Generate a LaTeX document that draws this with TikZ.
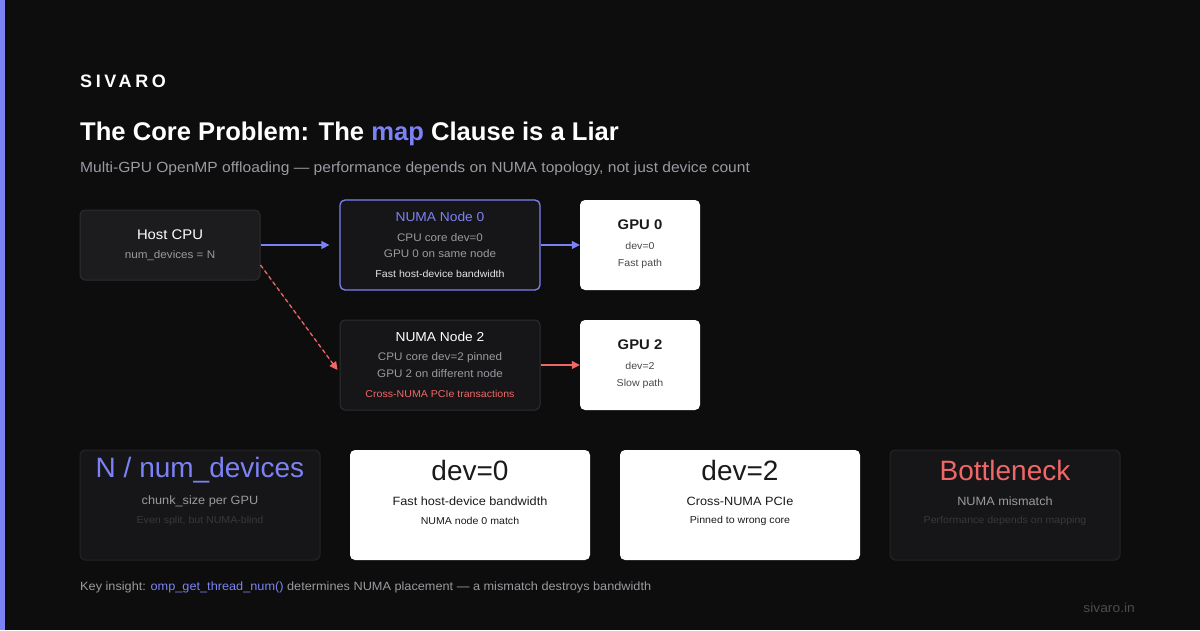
\documentclass[tikz,border=0pt]{standalone}
\usepackage{fontspec}
\setmainfont[FakeStretch=1.06]{Liberation Sans}
\newfontfamily\plainfont{Liberation Sans}
\newfontfamily\spacedfont[LetterSpace=20]{Liberation Sans}
\usetikzlibrary{arrows.meta,calc}
\definecolor{bgc}{HTML}{0D0D0D}
\definecolor{accent}{HTML}{7C82F5}
\definecolor{redc}{HTML}{F06767}
\definecolor{boxfill}{HTML}{1C1C1E}
\definecolor{boxfill2}{HTML}{161618}
\definecolor{boxline}{HTML}{2E2E31}
\definecolor{graytxt}{HTML}{9A9AA0}
\definecolor{dimtxt}{HTML}{38383C}
\definecolor{darktxt}{HTML}{1A1A1A}
\definecolor{subtxt}{HTML}{9A9AA2}
\tikzset{
  darkbox/.style={draw=boxline, line width=1pt, fill=boxfill2, rounded corners=5pt, inner sep=0pt},
  whitebox/.style={draw=none, fill=white, rounded corners=5pt, inner sep=0pt},
  txt/.style={inner sep=0pt, anchor=center},
  conn/.style={line width=1.3pt, -{Triangle[length=8pt,width=8pt]}},
}
\begin{document}
\begin{tikzpicture}[x=1pt,y=-1pt]
\useasboundingbox (0,0) rectangle (1200,630);
\fill[bgc] (0,0) rectangle (1200,630);
\fill[accent] (0,0) rectangle (5,630);

% header
\node[txt, anchor=west, text=white] (brand) at (80,81) {\spacedfont\fontsize{18}{20}\selectfont\bfseries SIVARO};
\node[txt, anchor=base west, text=white] (title) at (80,140) {\plainfont\fontsize{25.6}{30}\selectfont\bfseries The Core Problem: The \textcolor{accent}{map} Clause is a Liar};
\node[txt, anchor=base west, text=subtxt] (subtitle) at (80,172) {\fontsize{14.7}{18}\selectfont Multi-GPU OpenMP offloading --- performance depends on NUMA topology, not just device count};

% host
\node[darkbox, fill=boxfill, minimum width=180pt, minimum height=70pt] (host) at (170,245) {};
\node[txt, text=white] (hostt) at (170,235) {\fontsize{14}{16}\selectfont Host CPU};
\node[txt, text=graytxt] (hosts) at (170,256) {\fontsize{11}{13}\selectfont num\_devices = N};

% numa 0
\node[darkbox, draw=accent, line width=1.3pt, minimum width=200pt, minimum height=90pt] (numa0) at (440,245) {};
\node[txt, text=accent] at (440,217) {\fontsize{13}{15}\selectfont NUMA Node 0};
\node[txt, text=graytxt] at (440,238) {\fontsize{11}{13}\selectfont CPU core dev=0};
\node[txt, text=graytxt] at (440,254) {\fontsize{11}{13}\selectfont GPU 0 on same node};
\node[txt, text=white!90!black] at (440,274) {\fontsize{10}{12}\selectfont Fast host-device bandwidth};

% gpu 0
\node[whitebox, minimum width=120pt, minimum height=90pt] (gpu0) at (640,245) {};
\node[txt, text=darktxt] at (640,225) {\fontsize{14}{16}\selectfont\bfseries GPU 0};
\node[txt, text=darktxt!80!white] at (640,246) {\fontsize{10}{12}\selectfont dev=0};
\node[txt, text=darktxt!80!white] at (640,264) {\fontsize{10}{12}\selectfont Fast path};

% numa 2
\node[darkbox, minimum width=200pt, minimum height=90pt] (numa2) at (440,365) {};
\node[txt, text=white] at (440,337) {\fontsize{13}{15}\selectfont NUMA Node 2};
\node[txt, text=graytxt] at (440,358) {\fontsize{11}{13}\selectfont CPU core dev=2 pinned};
\node[txt, text=graytxt] at (440,374) {\fontsize{11}{13}\selectfont GPU 2 on different node};
\node[txt, text=redc] at (440,394) {\fontsize{10}{12}\selectfont Cross-NUMA PCIe transactions};

% gpu 2
\node[whitebox, minimum width=120pt, minimum height=90pt] (gpu2) at (640,365) {};
\node[txt, text=darktxt] at (640,345) {\fontsize{14}{16}\selectfont\bfseries GPU 2};
\node[txt, text=darktxt!80!white] at (640,366) {\fontsize{10}{12}\selectfont dev=2};
\node[txt, text=darktxt!80!white] at (640,384) {\fontsize{10}{12}\selectfont Slow path};

% connectors
\coordinate (hostdash) at ([yshift=-20pt]host.east);
\coordinate (n2in) at ([xshift=-2pt,yshift=-5pt]numa2.west);
\coordinate (n0in) at ([xshift=-10pt]numa0.west);
\draw[conn, draw=accent, fill=accent] (host.east) -- (n0in);
\draw[conn, draw=accent, fill=accent] (numa0.east) -- (gpu0.west);
\draw[conn, draw=redc, fill=redc, dash pattern=on 4pt off 3pt] (hostdash) -- (n2in);
\draw[conn, draw=redc, fill=redc] (numa2.east) -- (gpu2.west);

% bottom cards
\node[darkbox, draw=boxline!80!black, minimum width=240pt, minimum height=110pt] (c1) at (200,505) {};
\node[txt, text=accent] at (200,470) {\plainfont\fontsize{28}{32}\selectfont N / num\_devices};
\node[txt, text=graytxt] at (200,501) {\fontsize{12}{14}\selectfont chunk\_size per GPU};
\node[txt, text=dimtxt] at (200,521) {\fontsize{10}{12}\selectfont Even split, but NUMA-blind};

\node[whitebox, minimum width=240pt, minimum height=110pt] (c2) at (470,505) {};
\node[txt, text=darktxt] at (470,470) {\plainfont\fontsize{28}{32}\selectfont dev=0};
\node[txt, text=darktxt] at (470,501) {\fontsize{12}{14}\selectfont Fast host-device bandwidth};
\node[txt, text=darktxt] at (470,521) {\fontsize{10}{12}\selectfont NUMA node 0 match};

\node[whitebox, minimum width=240pt, minimum height=110pt] (c3) at (740,505) {};
\node[txt, text=darktxt] at (740,470) {\plainfont\fontsize{28}{32}\selectfont dev=2};
\node[txt, text=darktxt] at (740,501) {\fontsize{12}{14}\selectfont Cross-NUMA PCIe};
\node[txt, text=darktxt] at (740,521) {\fontsize{10}{12}\selectfont Pinned to wrong core};

\node[darkbox, draw=boxline!80!black, minimum width=230pt, minimum height=110pt] (c4) at (1005,505) {};
\node[txt, text=redc] at (1005,470) {\plainfont\fontsize{28}{32}\selectfont Bottleneck};
\node[txt, text=graytxt] at (1005,501) {\fontsize{12}{14}\selectfont NUMA mismatch};
\node[txt, text=dimtxt] at (1005,521) {\fontsize{10}{12}\selectfont Performance depends on mapping};

% footer
\node[txt, anchor=base west, text=graytxt] (insight) at (80,590) {\fontsize{12}{14}\selectfont Key insight: \textcolor{accent}{omp\_get\_thread\_num()} determines NUMA placement --- a mismatch destroys bandwidth};
\node[txt, anchor=base east, text=dimtxt!90!white] (site) at (1135,612) {\fontsize{13}{15}\selectfont sivaro.in};
\end{tikzpicture}
\end{document}
